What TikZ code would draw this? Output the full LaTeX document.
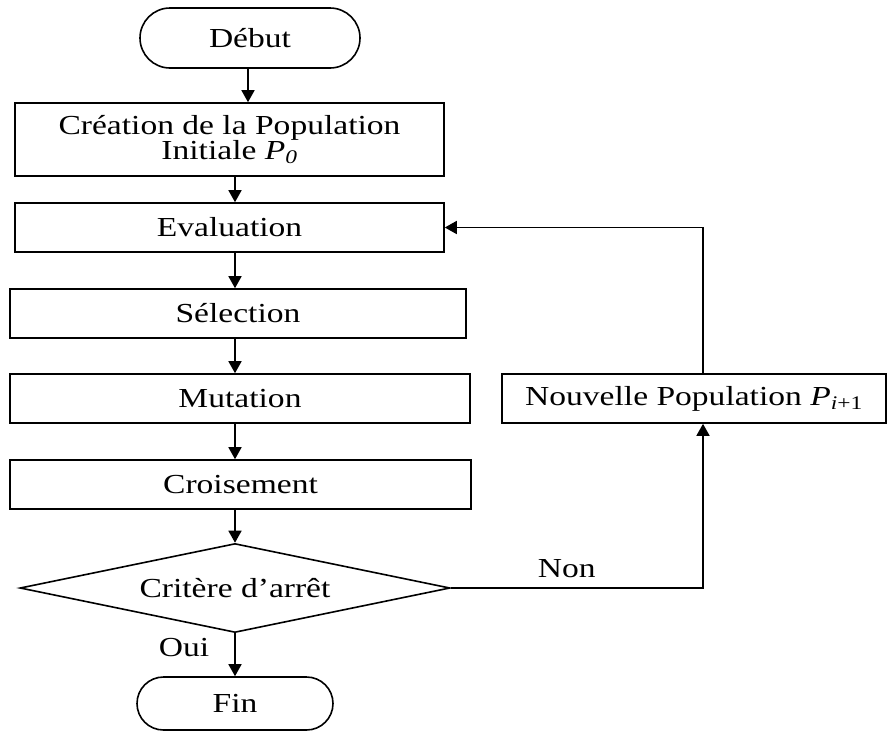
\documentclass[tikz,border=0pt]{standalone}
\usepackage{fontspec}
\setmainfont[FakeStretch=1.22]{Liberation Serif}
\usetikzlibrary{arrows.meta,shapes.geometric,shapes.misc}
\newcommand{\popu}[1]{\textit{P}\textsubscript{#1}}
\tikzset{
  etape/.style = {draw, rectangle, line width=1.6pt, inner sep=0pt, align=center,
    font=\fontsize{27.5}{25}\selectfont},% boite d'une etape
  terminal/.style = {etape, rounded rectangle},% debut / fin
  test/.style = {etape, diamond, shape aspect=4.8},% critere d'arret
  etiq/.style = {inner sep=0pt, font=\fontsize{27.5}{25}\selectfont}% Oui / Non
}
\begin{document}
\begin{tikzpicture}[->, x=1pt, y=-1pt, line width=1.6pt,
  >={Triangle[length=12pt,width=13pt]}]
    \useasboundingbox (0,0) rectangle (890,731);
    \node [terminal, minimum width=220, minimum height=60] (debut) at (250,38) {Début};
    \node [etape, minimum width=429, minimum height=73] (creation) at (229.5,139.5)
      {Création de la Population\\Initiale \popu{\textit{0}}};
    \node [etape, minimum width=429, minimum height=49] (eval) at (229.5,227.5) {Evaluation};
    \node [etape, minimum width=456, minimum height=49] (selection) at (238,313.5) {Sélection};
    \node [etape, minimum width=460, minimum height=49] (mutation) at (240,398.5) {Mutation};
    \node [etape, minimum width=461, minimum height=49] (croisement) at (240.5,484.5) {Croisement};
    \node [test, minimum width=430, minimum height=89] (critere) at (235,588) {Critère d’arrêt};
    \node [terminal, minimum width=196, minimum height=53] (fin) at (235,703.5) {Fin};
    \node [etape, minimum width=384, minimum height=49] (nouvpop) at (694,398.5)
      {Nouvelle Population \popu{\textit{i}+1}};
    \coordinate (axe) at (235,0);
    \coordinate (retour) at (703,230);
    \draw (debut.south -| 248,0) -- (creation.north -| 248,0);
    \foreach \a/\b in {creation/eval, eval/selection, selection/mutation,
      mutation/croisement, croisement/critere, critere/fin}
      \draw (\a.south -| axe) -- (\b.north -| axe);
    \node [etiq, left=25pt] (oui) at (235,648) {Oui};
    \draw (critere.east) -| (nouvpop.south -| retour) node [etiq, pos=0.23, above=9pt] {Non};
    \draw (nouvpop.north -| retour) |- (eval.east);
\end{tikzpicture}
\end{document}
